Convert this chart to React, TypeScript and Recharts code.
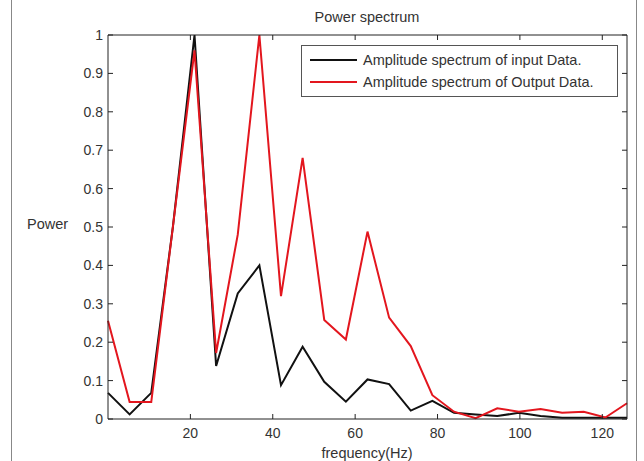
import { LineChart, Line, XAxis, YAxis, Legend } from 'recharts';

const FREQ = [0, 5.25, 10.5, 15.75, 21, 26.25, 31.5, 36.75, 42, 47.25, 52.5, 57.75, 63, 68.25, 73.5, 78.75, 84, 89.25, 94.5, 99.75, 105, 110.25, 115.5, 120.75, 126];
const INPUT = [0.068, 0.012, 0.068, 0.5, 1.0, 0.138, 0.327, 0.4, 0.088, 0.188, 0.097, 0.045, 0.103, 0.091, 0.022, 0.047, 0.016, 0.012, 0.008, 0.016, 0.008, 0.003, 0.003, 0.003, 0.003];
const OUTPUT = [0.256, 0.044, 0.044, 0.5, 0.96, 0.172, 0.48, 1.0, 0.32, 0.68, 0.258, 0.207, 0.488, 0.264, 0.19, 0.062, 0.019, 0.002, 0.028, 0.019, 0.026, 0.016, 0.019, 0.004, 0.041];
const X_TICKS = [20, 40, 60, 80, 100, 120];
const Y_TICKS = [0, 0.1, 0.2, 0.3, 0.4, 0.5, 0.6, 0.7, 0.8, 0.9, 1];
const SERIES_ORDER = ['input', 'output'];

const FONT = '"Liberation Sans", Arial, sans-serif';
const AXIS = '#222';

const data = FREQ.map((f, i) => ({ f, input: INPUT[i], output: OUTPUT[i] }));

function LegendBox({ payload }: any) {
  const items = SERIES_ORDER.map((k) => (payload || []).find((p: any) => p.dataKey === k)).filter(Boolean);
  return (
    <div style={{ border: '1px solid #555', background: '#fff', padding: '3px 0 3px 8px', fontFamily: FONT, fontSize: 14.5, color: '#333' }}>
      {items.map((p: any) => (
        <div key={p.value} style={{ display: 'flex', alignItems: 'center', height: 22 }}>
          <span style={{ display: 'inline-block', width: 47, height: 2, background: p.color, marginRight: 6 }} />
          <span>{p.value}</span>
        </div>
      ))}
    </div>
  );
}

export default function App() {
  return (
    <div style={{ position: 'absolute', left: 0, top: 0, width: 644, height: 461, background: '#fff', overflow: 'hidden' }}>
      <div style={{ position: 'absolute', left: 11, top: 0, width: 624, height: 461, borderLeft: '1px solid #888', borderRight: '1px solid #888' }} />
      <div style={{ position: 'absolute', left: 267, width: 200, top: 9, textAlign: 'center', fontFamily: FONT, fontSize: 14.5, color: '#333' }}>
        Power spectrum
      </div>
      <div style={{ position: 'absolute', left: 27, top: 216, fontFamily: FONT, fontSize: 14.5, color: '#333' }}>Power</div>
      <div style={{ position: 'absolute', left: 267, width: 200, top: 445, textAlign: 'center', fontFamily: FONT, fontSize: 14.5, color: '#333' }}>
        frequency(Hz)
      </div>
      <LineChart width={644} height={461} data={data} margin={{ top: 34, right: 16, bottom: 0, left: 0 }} style={{ position: 'absolute', left: 0, top: 0 }}>
        <XAxis
          xAxisId="b"
          dataKey="f"
          type="number"
          domain={[0, 126]}
          ticks={X_TICKS}
          height={42}
          tickSize={-5}
          tickMargin={14}
          stroke={AXIS}
          tick={{ fill: '#333', fontSize: 14, fontFamily: FONT }}
        />
        <XAxis
          xAxisId="t"
          orientation="top"
          dataKey="f"
          type="number"
          domain={[0, 126]}
          ticks={X_TICKS}
          height={1}
          tickSize={-5}
          tickFormatter={() => ''}
          stroke={AXIS}
        />
        <YAxis
          yAxisId="l"
          type="number"
          domain={[0, 1]}
          ticks={Y_TICKS}
          width={108}
          tickSize={-5}
          tickMargin={10}
          stroke={AXIS}
          tick={{ fill: '#333', fontSize: 14, fontFamily: FONT }}
        />
        <YAxis
          yAxisId="r"
          orientation="right"
          type="number"
          domain={[0, 1]}
          ticks={Y_TICKS}
          width={1}
          tickSize={-5}
          tickFormatter={() => ''}
          stroke={AXIS}
        />
        <Legend
          layout="vertical"
          align="center"
          verticalAlign="middle"
          wrapperStyle={{ left: 301, top: 45, width: 317 }}
          content={<LegendBox />}
        />
        {/* invisible series so the top and right box axes get drawn */}
        <Line
          xAxisId="t"
          yAxisId="r"
          dataKey="input"
          stroke="transparent"
          dot={false}
          legendType="none"
          isAnimationActive={false}
        />
        <Line
          xAxisId="b"
          yAxisId="l"
          type="linear"
          dataKey="input"
          name="Amplitude spectrum of input Data."
          stroke="#111"
          strokeWidth={2}
          dot={false}
          isAnimationActive={false}
        />
        <Line
          xAxisId="b"
          yAxisId="l"
          type="linear"
          dataKey="output"
          name="Amplitude spectrum of Output Data."
          stroke="#e3161e"
          strokeWidth={2}
          dot={false}
          isAnimationActive={false}
        />
      </LineChart>
    </div>
  );
}
